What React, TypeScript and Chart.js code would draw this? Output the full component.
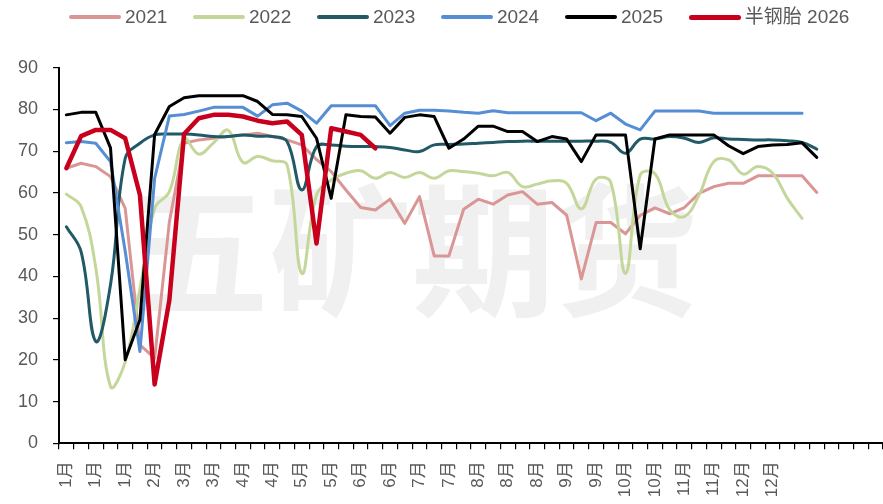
import React, { useEffect, useRef } from 'react';
import { Chart, registerables } from 'chart.js';

Chart.register(...registerables);

const FONT = '"Liberation Sans", "Noto Sans CJK SC", sans-serif';

// Tick labels shown on every other weekly category
const monthTicks = ['1月', '1月', '1月', '2月', '3月', '3月', '4月', '4月', '5月', '5月', '6月', '6月', '7月', '7月', '8月', '8月', '8月', '9月', '9月', '10月', '10月', '11月', '11月', '12月', '12月'];
const weekCount = 56;
const categories = Array.from({ length: weekCount }, (_, i) =>
  i % 2 === 0 && i / 2 < monthTicks.length ? monthTicks[i / 2] : ''
);

const s2021 = [65.9, 67.1, 66.3, 63.9, 56.3, 23.6, 20.4, 53, 71.9, 72.7, 73.1, 73.5, 73.9, 74.3, 73.5, 72.7, 71.5, 68, 65.1, 60.7, 56.5, 55.9, 58.5, 52.7, 59.1, 44.9, 44.9, 56.1, 58.5, 57.3, 59.5, 60.3, 57.3, 57.7, 54.7, 39.4, 52.9, 52.9, 50.2, 54.6, 56.4, 55.0, 56.5, 59.9, 61.5, 62.3, 62.3, 64.1, 64.1, 64.1, 64.1, 60.1];
const s2022 = [59.7, 56.7, 42, 13.6, 19.5, 37, 56.3, 60.3, 73, 69.3, 72, 75, 67.3, 68.7, 67.7, 66.7, 40.7, 59.5, 63.1, 64.7, 65.3, 63.5, 64.9, 63.7, 64.9, 63.5, 65.3, 65.1, 64.7, 64.1, 64.9, 61.5, 62.1, 62.9, 62.3, 56.2, 63.3, 62.5, 40.7, 64.3, 64.6, 56, 54.3, 59.5, 67.5, 67.9, 64.5, 66.3, 64.7, 58.7, 53.9];
const s2023 = [51.9, 45.9, 24.4, 38, 68.3, 71.9, 73.9, 74.1, 74.1, 73.9, 73.5, 73.5, 73.9, 73.6, 73.5, 72.3, 60.7, 71.1, 71.5, 71.2, 71.1, 71.1, 70.9, 70.3, 69.9, 71.5, 71.6, 71.7, 71.9, 72.1, 72.3, 72.4, 72.4, 72.4, 72.4, 72.4, 72.4, 72.1, 69.5, 72.9, 72.9, 73.5, 73.1, 72.1, 73.2, 72.9, 72.8, 72.7, 72.7, 72.5, 72.1, 70.5];
const s2024 = [72.0, 72.3, 71.9, 67.5, 46, 22, 63.5, 78.4, 78.8, 79.6, 80.5, 80.5, 80.5, 78.4, 81.1, 81.5, 79.6, 76.7, 80.9, 80.9, 80.9, 80.9, 76.1, 79.1, 79.8, 79.8, 79.6, 79.3, 79.1, 79.7, 79.2, 79.2, 79.2, 79.2, 79.2, 79.2, 77.3, 79.1, 76.5, 75.1, 79.6, 79.6, 79.6, 79.6, 79.1, 79.1, 79.1, 79.1, 79.1, 79.1, 79.1];
const s2025 = [78.7, 79.3, 79.3, 70.8, 20.0, 29.6, 74, 80.7, 82.8, 83.3, 83.3, 83.3, 83.3, 81.9, 78.8, 78.7, 78.3, 73.1, 58.7, 78.7, 78.3, 78.2, 74.3, 78.1, 78.7, 78.3, 70.7, 72.9, 76.0, 76.0, 74.7, 74.7, 72.3, 73.5, 72.9, 67.5, 73.9, 73.9, 73.9, 46.6, 72.9, 73.9, 73.9, 73.9, 73.9, 71.3, 69.4, 71.1, 71.5, 71.6, 72.0, 68.5];
const s2026 = [65.9, 73.6, 75.1, 75.1, 73.1, 59.5, 14.1, 34.3, 74.1, 77.9, 78.7, 78.7, 78.3, 77.3, 76.7, 77.1, 73.9, 47.9, 75.5, 74.7, 73.9, 70.7];

const series = [
  { label: '2021', data: s2021, color: '#DA9694', width: 3, tension: 0 },
  { label: '2022', data: s2022, color: '#C4D79B', width: 3, tension: 0.4 },
  { label: '2023', data: s2023, color: '#215967', width: 3, tension: 0.4 },
  { label: '2024', data: s2024, color: '#558ED5', width: 3, tension: 0 },
  { label: '2025', data: s2025, color: '#000000', width: 3, tension: 0 },
  { label: '半钢胎 2026', data: s2026, color: '#C8001E', width: 4.5, tension: 0 },
];

const watermark = {
  id: 'watermark',
  beforeDatasetsDraw(chart: any) {
    const ctx = chart.ctx;
    ctx.save();
    ctx.font = 'bold 143px "Noto Sans CJK SC", sans-serif';
    ctx.fillStyle = '#f0f0f0';
    ctx.textAlign = 'center';
    ctx.textBaseline = 'middle';
    ctx.fillText('五矿期货', 412, 251);
    ctx.restore();
  },
};

export default function App() {
  const ref = useRef<HTMLCanvasElement | null>(null);

  useEffect(() => {
    if (!ref.current) return;
    const chart = new Chart(ref.current, {
      type: 'line',
      data: {
        labels: categories,
        datasets: series.map((s, i) => ({
          label: s.label,
          data: s.data,
          borderColor: s.color,
          backgroundColor: s.color,
          borderWidth: s.width,
          tension: s.tension,
          pointRadius: 0,
          pointHoverRadius: 0,
          fill: false,
          borderJoinStyle: 'round' as const,
          borderCapStyle: 'round' as const,
          order: series.length - i,
        })),
      },
      options: {
        responsive: false,
        animation: false,
        layout: { padding: { top: 67.7, left: 0, right: 0, bottom: 0 } },
        plugins: {
          legend: { display: false },
          tooltip: { enabled: false },
        },
        scales: {
          x: {
            type: 'category',
            offset: true,
            grid: {
              offset: true,
              drawOnChartArea: false,
              drawTicks: true,
              tickLength: 6,
              color: '#000',
              lineWidth: 1.2,
            },
            border: { display: true, color: '#000', width: 2 },
            ticks: {
              autoSkip: false,
              minRotation: 90,
              maxRotation: 90,
              color: '#595959',
              padding: 12,
              font: { size: 17, family: FONT },
            },
            afterFit: (s: any) => {
              s.height = 60.7;
              s.paddingLeft = 0;
              s.paddingRight = 0;
            },
          },
          y: {
            min: 0,
            max: 90,
            grid: {
              drawOnChartArea: false,
              drawTicks: true,
              tickLength: 6,
              color: '#000',
              lineWidth: 1.2,
            },
            border: { display: true, color: '#000', width: 2 },
            ticks: {
              stepSize: 10,
              color: '#595959',
              padding: 15,
              font: { size: 18, family: FONT },
            },
            afterFit: (s: any) => {
              s.width = 59;
            },
          },
        },
      },
      plugins: [watermark],
    });
    return () => chart.destroy();
  }, []);

  return (
    <div style={{ position: 'fixed', left: 0, top: 0, width: 883, height: 504, background: '#fff', overflow: 'hidden' }}>
      <canvas ref={ref} width={883} height={504} style={{ position: 'absolute', left: 0, top: 0 }} />
      <div
        style={{
          position: 'absolute',
          top: 6,
          left: 69,
          display: 'flex',
          gap: '25.7px',
          fontFamily: FONT,
          fontSize: 19,
          lineHeight: '22px',
          color: '#595959',
          whiteSpace: 'nowrap',
        }}
      >
        {series.map((s) => (
          <div key={s.label} style={{ display: 'flex', alignItems: 'center' }}>
            <span
              style={{
                display: 'inline-block',
                width: 52,
                height: s.width > 4 ? 5 : 4,
                borderRadius: 3,
                background: s.color,
                marginRight: 4,
              }}
            />
            <span>{s.label}</span>
          </div>
        ))}
      </div>
    </div>
  );
}
